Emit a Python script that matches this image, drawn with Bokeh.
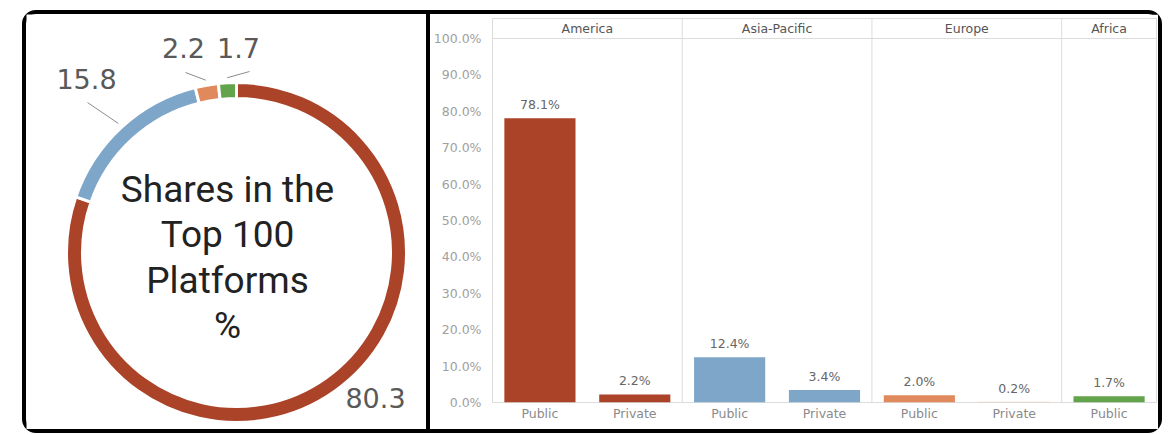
import math
from bokeh.plotting import figure
from bokeh.layouts import row, column
from bokeh.models import Range1d, FactorRange, FixedTicker, PrintfTickFormatter, Span, ColumnDataSource
from bokeh.core.properties import value
from bokeh.embed import file_html
from bokeh.resources import INLINE

# ---------------- data ----------------
donut_regions = ["America", "Asia-Pacific", "Europe", "Africa"]
donut_shares = [80.3, 15.8, 2.2, 1.7]
donut_title = "Shares in the\nTop 100\nPlatforms\n%"

bar_regions = ["America", "America", "Asia-Pacific", "Asia-Pacific", "Europe", "Europe", "Africa"]
bar_types = ["Public", "Private", "Public", "Private", "Public", "Private", "Public"]
bar_shares = [78.1, 2.2, 12.4, 3.4, 2.0, 0.2, 1.7]
y_ticks = [0, 10, 20, 30, 40, 50, 60, 70, 80, 90, 100]

# ---------------- styles ----------------
region_colors = {"America": "#AB4329", "Asia-Pacific": "#7DA6C9",
                 "Europe": "#E0895C", "Africa": "#62A34B"}
special_colors = {("Europe", "Private"): "#E9CFC2"}
label_color = "#595959"
small_font = "DejaVu Sans"
small_size = "12.5px"

# ---------------- left: donut ----------------
WL, H = 404, 415
left = figure(width=WL, height=H, x_range=Range1d(0, WL), y_range=Range1d(0, H),
              x_axis_type=None, y_axis_type=None, output_backend="svg",
              toolbar_location=None, min_border=0, outline_line_color=None)
left.grid.visible = False
left.styles = {"border-right": "4px solid black"}

cx, cy = 210, 177
r_in, r_out = 154, 170
total = sum(donut_shares)
starts, ends, mids = [], [], []
cum = 0.0
for v in donut_shares:
    a0 = math.pi / 2 - 2 * math.pi * cum / total
    a1 = math.pi / 2 - 2 * math.pi * (cum + v) / total
    starts.append(a0)
    ends.append(a1)
    mids.append((a0 + a1) / 2)
    cum += v

src = ColumnDataSource(dict(start=starts, end=ends,
                            color=[region_colors[r] for r in donut_regions]))
left.annular_wedge(x=cx, y=cy, inner_radius=r_in, outer_radius=r_out,
                   start_angle="start", end_angle="end", direction="clock",
                   fill_color="color", line_color="white", line_width=3, source=src)

# label positions (layout) per slice
label_pos = [(349, 32), (60, 351), (157, 382), (212, 382)]
leader_end = [None, (61, 327), (159, 357), (223, 358)]
for i, v in enumerate(donut_shares):
    lx, ly = label_pos[i]
    left.text(x=[lx], y=[ly], text=[f"{v:.1f}"], text_align="center",
              text_baseline="middle", text_font=value("DejaVu Sans"),
              text_font_size="27px", text_color=label_color)
    if leader_end[i] is not None:
        sx = cx + (r_out + 5) * math.cos(mids[i])
        sy = cy + (r_out + 5) * math.sin(mids[i])
        ex, ey = leader_end[i]
        left.line(x=[sx, ex], y=[sy, ey], line_color="#8c8c8c", line_width=1)

left.text(x=[cx - 9], y=[cy - 5], text=[donut_title], text_align="center",
          text_baseline="middle", text_font=value("Roboto"), text_font_size="37px",
          text_color="#222222", text_line_height=1.06)

# ---------------- right: bars ----------------
factors = list(zip(bar_regions, bar_types))
xr = FactorRange(*factors, factor_padding=0, group_padding=0, range_padding=0)
y_top = 105.5
right = figure(width=728, height=H, x_range=xr, y_range=Range1d(0, y_top),
               output_backend="svg", toolbar_location=None,
               min_border_left=60, min_border_right=2, min_border_top=4,
               min_border_bottom=27, outline_line_color="#dcdcdc")
right.grid.visible = False

colors = [special_colors.get(f, region_colors[f[0]]) for f in factors]
bsrc = ColumnDataSource(dict(x=factors, top=bar_shares, color=colors,
                             lab=[f"{v:.1f}%" for v in bar_shares]))
right.vbar(x="x", top="top", width=0.75, fill_color="color", line_color=None, source=bsrc)
right.text(x="x", y="top", text="lab", source=bsrc, y_offset=-6,
           text_align="center", text_baseline="bottom", text_font=value(small_font),
           text_font_size=small_size, text_color="#666666")

# header with region names
uniq = []
for r in bar_regions:
    if r not in uniq:
        uniq.append(r)
right.text(x=uniq, y=[(100 + y_top) / 2] * len(uniq), text=uniq,
           text_align="center", text_baseline="middle", text_font=value(small_font),
           text_font_size=small_size, text_color="#555555")
right.add_layout(Span(location=100, dimension="width", line_color="#dcdcdc", line_width=1))

# group separators
pos = 0
for r in uniq[:-1]:
    pos += bar_regions.count(r)
    right.add_layout(Span(location=pos, dimension="height", line_color="#dcdcdc", line_width=1))

xa = right.xaxis[0]
xa.axis_line_color = None
xa.major_tick_line_color = None
xa.minor_tick_line_color = None
xa.separator_line_color = None
xa.group_text_font_size = "0px"
xa.group_text_color = None
xa.major_label_orientation = "horizontal"
xa.major_label_text_font = small_font
xa.major_label_text_font_size = small_size
xa.major_label_text_color = "#8a8a8a"
xa.major_label_standoff = -3

ya = right.yaxis[0]
ya.ticker = FixedTicker(ticks=y_ticks)
ya.formatter = PrintfTickFormatter(format="%.1f%%")
ya.axis_line_color = None
ya.major_tick_line_color = None
ya.minor_tick_line_color = None
ya.major_label_text_font = small_font
ya.major_label_text_font_size = small_size
ya.major_label_text_color = "#a0a0a0"
ya.major_label_standoff = 5

layout = row(column(left), right, styles={"border": "4px solid black", "border-radius": "14px",
                                          "margin-left": "22px", "margin-top": "10px"})

open("out.html", "w").write(file_html(layout, INLINE))
